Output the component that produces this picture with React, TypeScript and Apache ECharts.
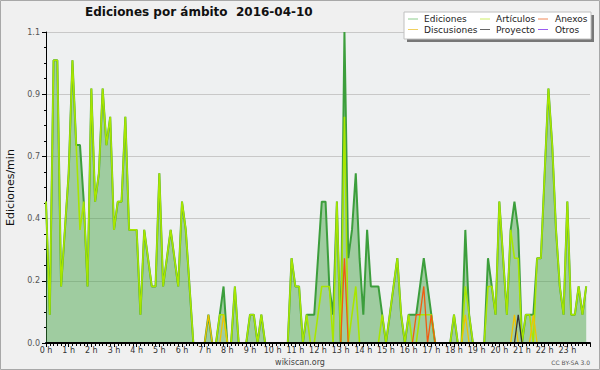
import { useEffect, useRef } from 'react';
import * as echarts from 'echarts';

const TITLE = 'Ediciones por ámbito  2016-04-10';
const Y_NAME = 'Ediciones/min';
const SERIES_NAMES = ['Ediciones', 'Artículos', 'Anexos', 'Discusiones', 'Proyecto', 'Otros'];
const HOUR_LABELS = ['0 h','1 h','2 h','3 h','4 h','5 h','6 h','7 h','8 h','9 h','10 h','11 h','12 h','13 h','14 h','15 h','16 h','17 h','18 h','19 h','20 h','21 h','22 h','23 h'];
const Y_TICKS = [0, 0.22, 0.44, 0.66, 0.88, 1.1];
const Y_TICK_LABELS = ['0.0', '0.2', '0.4', '0.7', '0.9', '1.1'];

// one value every 10 minutes (6 per hour), edits per minute
const ediciones = [
  0.5,0.1,1.0,1.0,0.2,0.4,
  0.6,1.0,0.7,0.7,0.5,0.2,
  0.9,0.5,0.6,0.9,0.7,0.8,
  0.4,0.5,0.5,0.8,0.4,0.4,
  0.4,0.1,0.4,0.3,0.2,0.2,
  0.6,0.2,0.3,0.4,0.3,0.2,
  0.5,0.4,0.2,0,0,0,
  0,0.1,0,0,0.1,0.2,
  0,0,0.2,0,0,0,
  0.1,0.1,0,0.1,0,0,
  0,0,0,0,0,0.3,
  0.2,0.2,0,0.1,0.1,0.1,
  0.3,0.5,0.5,0.2,0.1,0.5,
  0,1.1,0.3,0.4,0.6,0.3,
  0.1,0.4,0.2,0.2,0.2,0.1,
  0,0.1,0.2,0.3,0.1,0,
  0.1,0.1,0.1,0.2,0.3,0.2,
  0.1,0,0,0,0,0,
  0.1,0,0,0.4,0.1,0,
  0,0,0,0.3,0.2,0.1,
  0.5,0.3,0.1,0.4,0.5,0.4,
  0,0.1,0.1,0.1,0.3,0.3,
  0.6,0.9,0.7,0.4,0.2,0.1,
  0.5,0.1,0.1,0.2,0.1,0.2,
];
const articulos = [
  0.5,0.1,1.0,1.0,0.2,0.4,
  0.6,1.0,0.7,0.4,0.5,0.2,
  0.9,0.5,0.6,0.9,0.7,0.8,
  0.4,0.5,0.5,0.8,0.4,0.4,
  0.4,0.1,0.4,0.3,0.2,0.2,
  0.6,0.2,0.3,0.4,0.3,0.2,
  0.5,0.4,0.2,0,0,0,
  0,0,0,0,0.1,0.1,
  0,0,0.2,0,0,0,
  0.1,0.1,0,0.1,0,0,
  0,0,0,0,0,0.3,
  0.2,0.2,0,0.1,0,0,
  0.1,0.2,0.2,0.2,0,0.5,
  0,0.8,0,0.1,0.2,0,
  0,0,0,0,0,0.1,
  0,0.1,0.2,0.3,0.1,0,
  0.1,0,0,0.1,0.1,0.1,
  0.1,0,0,0,0,0,
  0.1,0,0,0.2,0.1,0,
  0,0,0,0.2,0.2,0.1,
  0.5,0.3,0.1,0.4,0.3,0.3,
  0,0.1,0.1,0,0.3,0.3,
  0.6,0.9,0.7,0.4,0.2,0.1,
  0.5,0.1,0.1,0.2,0.1,0.2,
];
const anexos = [
  0,0,0,0,0,0, 0,0,0,0,0,0, 0,0,0,0,0,0, 0,0,0,0,0,0,
  0,0,0,0,0,0, 0,0,0,0,0,0, 0,0,0,0,0,0, 0,0,0,0,0,0,
  0,0,0,0,0,0, 0,0,0,0,0,0, 0,0,0,0,0,0, 0,0,0,0,0,0,
  0,0,0,0,0,0, 0,0.3,0,0,0,0, 0,0,0,0,0,0, 0,0,0,0,0,0,
  0,0,0.1,0.1,0.2,0, 0.1,0,0,0,0,0, 0,0,0,0,0,0, 0,0,0,0,0,0,
  0,0,0,0,0,0, 0,0,0,0,0,0, 0,0,0,0,0,0, 0,0,0,0,0,0,
];
const discusiones = [
  0,0,0,0,0,0, 0,0,0,0,0,0, 0,0,0,0,0,0, 0,0,0,0,0,0,
  0,0,0,0,0,0, 0,0,0,0,0,0, 0,0,0,0,0,0, 0,0.1,0,0,0,0.1,
  0,0,0,0,0,0, 0,0,0,0,0,0, 0,0,0,0,0,0, 0,0,0,0,0,0,
  0,0,0,0,0,0, 0,0,0,0,0,0, 0,0,0,0,0,0, 0,0,0,0,0,0,
  0,0,0,0,0,0, 0,0,0,0,0,0, 0,0,0,0.1,0,0, 0,0,0,0,0,0,
  0,0,0,0,0.1,0, 0,0,0,0.1,0,0, 0,0,0,0,0,0, 0,0,0,0,0,0,
];
const proyecto = [
  0,0,0,0,0,0, 0,0,0,0,0,0, 0,0,0,0,0,0, 0,0,0,0,0,0,
  0,0,0,0,0,0, 0,0,0,0,0,0, 0,0,0,0,0,0, 0,0,0,0,0,0,
  0,0,0,0,0,0, 0,0,0,0,0,0, 0,0,0,0,0,0, 0,0,0,0,0,0,
  0,0,0,0,0,0, 0,0,0,0,0,0, 0,0,0,0,0,0, 0,0,0,0,0,0,
  0,0,0,0,0,0, 0,0,0,0,0,0, 0,0,0,0,0,0, 0,0,0,0,0,0,
  0,0,0,0,0,0.1, 0,0,0,0,0,0, 0,0,0,0,0,0, 0,0,0,0,0,0,
];
const otros = [
  0,0,0,0,0,0, 0,0,0,0,0,0, 0,0,0,0,0,0, 0,0,0,0,0,0,
  0,0,0,0,0,0, 0,0,0,0,0,0, 0,0,0,0,0,0, 0,0,0,0,0,0,
  0,0,0,0,0,0, 0,0,0,0,0,0, 0,0,0,0,0,0, 0,0,0,0,0,0,
  0,0,0,0,0,0, 0,0,0,0,0,0, 0,0,0,0,0,0, 0,0,0,0,0,0,
  0,0,0,0,0,0, 0,0,0,0,0,0, 0,0,0,0,0,0, 0,0,0,0,0,0,
  0,0,0,0,0,0, 0,0,0,0,0,0, 0,0,0,0,0,0, 0,0,0,0,0,0,
];

const SERIES_DATA = [ediciones, articulos, anexos, discusiones, proyecto, otros];
const LINE_COLORS = ['#3c9e3c', '#a8e600', '#f05a10', '#f0c400', '#333333', '#8a3cf0'];
const LINE_WIDTHS = [2, 1.6, 1.3, 1.3, 1.3, 1.3];
const LEGEND_COLORS = ['#8ccc8c', '#cdee66', '#f08858', '#f0d060', '#666666', '#9a5cf0'];
const FONT = 'DejaVu Sans';

export default function App() {
  const ref = useRef<HTMLDivElement>(null);
  useEffect(() => {
    if (!ref.current) return;
    const chart = echarts.init(ref.current, undefined, { renderer: 'svg' });

    const series: any[] = SERIES_NAMES.map((name, k) => ({
      name,
      type: 'line',
      data: SERIES_DATA[k].map((v, i) => [i / 6, v]),
      symbol: 'none',
      smooth: false,
      z: 2 + k,
      lineStyle: { color: LINE_COLORS[k], width: LINE_WIDTHS[k] },
      itemStyle: { color: LINE_COLORS[k] },
      ...(k === 0 ? { areaStyle: { color: '#3fa03f', opacity: 0.45 } } : {}),
    }));

    const colX = [408, 480, 538];
    const textX = [424, 496, 555];
    const rowY = [19, 29.5];
    const legendEls: any[] = [
      { type: 'rect', shape: { x: 407, y: 15, width: 187, height: 27 }, style: { fill: '#777' }, z: 10 },
      { type: 'rect', shape: { x: 404, y: 12, width: 187, height: 27 }, style: { fill: '#ffffff', stroke: '#c0c0c0', lineWidth: 1 }, z: 11 },
    ];
    SERIES_NAMES.forEach((name, k) => {
      const c = k % 3;
      const r = Math.floor(k / 3);
      legendEls.push({
        type: 'line', z: 12,
        shape: { x1: colX[c], y1: rowY[r], x2: colX[c] + 10, y2: rowY[r] },
        style: { stroke: LEGEND_COLORS[k], lineWidth: 1 },
      });
      legendEls.push({
        type: 'text', z: 12, x: textX[c], y: rowY[r],
        style: { text: name, fontSize: 9, fontFamily: FONT, fill: '#222', verticalAlign: 'middle', align: 'left' },
      });
    });

    chart.setOption({
      animation: false,
      backgroundColor: '#f0f0f0',
      textStyle: { fontFamily: FONT },
      title: {
        text: TITLE, left: 85, top: 6, padding: 0,
        textStyle: { fontSize: 12, fontWeight: 'bold', color: '#111', fontFamily: FONT },
      },
      grid: {
        left: 46, right: 10, top: 32, bottom: 27, containLabel: false, outerBoundsMode: 'none',
        show: true, backgroundColor: '#eef0f1', borderWidth: 0,
      },
      xAxis: {
        type: 'value', min: 0, max: 24, interval: 1, z: 10,
        axisLine: { show: true, onZero: false, lineStyle: { color: '#000', width: 2 } },
        axisTick: { show: true, length: 4, lineStyle: { color: '#000' } },
        minorTick: { show: true, splitNumber: 6, length: 3, lineStyle: { color: '#000' } },
        axisLabel: {
          formatter: (v: number) => HOUR_LABELS[Math.round(v)] ?? '',
          fontSize: 8, color: '#333', margin: 3, fontFamily: FONT,
        },
        splitLine: { show: false },
      },
      yAxis: {
        type: 'value', min: 0, max: 1.1, interval: 0.22,
        name: Y_NAME, nameLocation: 'middle', nameRotate: 90, nameGap: 29,
        nameTextStyle: { fontSize: 11, color: '#111', fontFamily: FONT },
        axisLine: { show: true, lineStyle: { color: '#000', width: 1 } },
        axisTick: { show: true, length: 4, lineStyle: { color: '#000' } },
        minorTick: { show: true, splitNumber: 4, length: 2, lineStyle: { color: '#000' } },
        axisLabel: {
          formatter: (v: number) => {
            const idx = Y_TICKS.findIndex((t) => Math.abs(t - v) < 1e-6);
            return idx >= 0 ? Y_TICK_LABELS[idx] : '';
          },
          fontSize: 8, color: '#555', margin: 6, fontFamily: FONT,
        },
        splitLine: { show: true, lineStyle: { color: '#c8c8c8', width: 1 } },
      },
      graphic: [
        { type: 'rect', shape: { x: 0.5, y: 0.5, width: 599, height: 369 }, style: { fill: 'none', stroke: '#a8a8a8', lineWidth: 1 }, z: 20 },
        ...legendEls,
        { type: 'text', x: 300, y: 362, style: { text: 'wikiscan.org', fontSize: 8, fontFamily: FONT, fill: '#444', align: 'center', verticalAlign: 'middle' } },
        { type: 'text', x: 590, y: 362, style: { text: 'CC BY-SA 3.0', fontSize: 6, fontFamily: FONT, fill: '#555', align: 'right', verticalAlign: 'middle' } },
      ],
      series,
    });
    return () => chart.dispose();
  }, []);
  return <div ref={ref} style={{ position: 'absolute', left: 0, top: 0, width: 600, height: 370 }} />;
}
